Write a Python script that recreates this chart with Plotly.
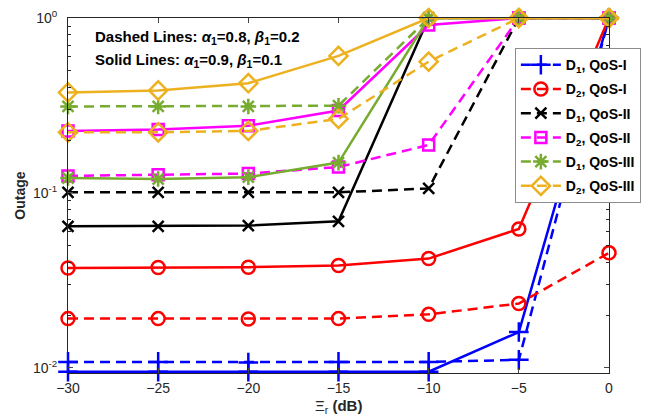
import plotly.graph_objects as go

x_db = [-30, -25, -20, -15, -10, -5, 0]

# Dashed lines: alpha1=0.8, beta1=0.2
d1_qos1_dash = [0.0108, 0.0108, 0.0107, 0.0108, 0.0108, 0.0111, 1.0]
d2_qos1_dash = [0.0191, 0.0191, 0.0190, 0.0191, 0.0202, 0.0233, 0.0454]
d1_qos2_dash = [0.1007, 0.1007, 0.1007, 0.1007, 0.106, 1.0, 1.0]
d2_qos2_dash = [0.125, 0.127, 0.129, 0.1405, 0.188, 1.0, 1.0]
d1_qos3_dash = [0.312, 0.312, 0.312, 0.315, 1.0, 1.0, 1.0]
d2_qos3_dash = [0.222, 0.222, 0.226, 0.265, 0.563, 1.0, 1.0]

# Solid lines: alpha1=0.9, beta1=0.1
d1_qos1_solid = [0.0095, 0.0095, 0.0095, 0.0095, 0.0095, 0.0160, 1.0]
d2_qos1_solid = [0.0372, 0.0374, 0.0376, 0.0384, 0.0421, 0.0622, 1.0]
d1_qos2_solid = [0.0644, 0.0644, 0.0650, 0.0688, 1.0, 1.0, 1.0]
d2_qos2_solid = [0.226, 0.230, 0.242, 0.296, 0.912, 1.0, 1.0]
d1_qos3_solid = [0.1216, 0.120, 0.123, 0.149, 1.0, 1.0, 1.0]
d2_qos3_solid = [0.375, 0.385, 0.424, 0.607, 1.0, 1.0, 1.0]

names = ["D<sub>1</sub>, QoS-I", "D<sub>2</sub>, QoS-I", "D<sub>1</sub>, QoS-II",
         "D<sub>2</sub>, QoS-II", "D<sub>1</sub>, QoS-III", "D<sub>2</sub>, QoS-III"]
colors = ["#0000FF", "#FF0000", "#000000", "#FF00FF", "#77AC30", "#EDB120"]
symbols = ["cross-thin-open", "circle-open", "x-thin-open", "square-open",
           "asterisk-open", "diamond-open"]
sizes = [14, 13, 11, 11, 13, 14]
dash_series = [d1_qos1_dash, d2_qos1_dash, d1_qos2_dash, d2_qos2_dash, d1_qos3_dash, d2_qos3_dash]
solid_series = [d1_qos1_solid, d2_qos1_solid, d1_qos2_solid, d2_qos2_solid, d1_qos3_solid, d2_qos3_solid]

y_major = [0.01, 0.1, 1]
y_major_text = ["10<sup>-2</sup>", "10<sup>-1</sup>", "10<sup>0</sup>"]
y_minor = [m * d for d in (0.01, 0.1) for m in range(2, 10)]

fig = go.Figure()
for i in range(6):
    for ys, dash, show in ((solid_series[i], "solid", False), (dash_series[i], "10px,6px", True)):
        fig.add_trace(go.Scatter(
            x=x_db, y=ys, mode="lines+markers", name="<b>" + names[i] + "</b>",
            showlegend=show, legendgroup="g%d" % i,
            line=dict(color=colors[i], width=2.5, dash=dash),
            marker=dict(symbol=symbols[i], size=sizes[i], color=colors[i],
                        line=dict(color=colors[i], width=2.5)),
            cliponaxis=False,
        ))

axis_col = "#262626"
fig.update_layout(
    width=646, height=415,
    margin=dict(l=68, r=37, t=18, b=42, autoexpand=False),
    paper_bgcolor="white", plot_bgcolor="white",
    font=dict(family="Liberation Sans, Arial, sans-serif", size=14, color=axis_col),
    showlegend=True,
    legend=dict(x=0.826, y=0.915, xanchor="left", yanchor="top",
                bgcolor="white", bordercolor="#8c8c8c", borderwidth=1,
                font=dict(size=14, color="black", family="Liberation Sans, Arial, sans-serif"),
                tracegroupgap=3, itemwidth=40),
    xaxis=dict(range=[-30, 0], tickvals=x_db, automargin=False,
               ticks="inside", ticklen=5, mirror="allticks", showline=True,
               linecolor=axis_col, linewidth=1, showgrid=False, zeroline=False,
               ticklabelstandoff=2,
               tickfont=dict(size=14, color=axis_col)),
    yaxis=dict(type="log", range=[-2.03, 0], tickvals=y_major, ticktext=y_major_text,
               automargin=False,
               ticks="inside", ticklen=5, mirror="allticks", showline=True,
               linecolor=axis_col, linewidth=1, showgrid=False, zeroline=False,
               ticklabelstandoff=7,
               minor=dict(ticks="inside", ticklen=3, tickvals=y_minor, showgrid=False,
                          tickcolor=axis_col),
               tickfont=dict(size=14, color=axis_col),
               title=dict(text="<b>Outage</b>", font=dict(size=14, color=axis_col), standoff=4)),
)
fig.add_annotation(xref="paper", yref="paper", x=0.5, y=-0.093, xanchor="center", yanchor="middle",
                   text="Ξ<sub>r</sub> <b>(dB)</b>", showarrow=False,
                   font=dict(size=15, color=axis_col))
fig.add_annotation(xref="paper", yref="paper", x=0.046, y=0.946, xanchor="left", yanchor="middle",
                   text="<b>Dashed Lines: <i>α</i><sub>1</sub>=0.8, <i>β</i><sub>1</sub>=0.2</b>",
                   showarrow=False, font=dict(size=15, color="black"))
fig.add_annotation(xref="paper", yref="paper", x=0.046, y=0.879, xanchor="left", yanchor="middle",
                   text="<b>Solid Lines: <i>α</i><sub>1</sub>=0.9, <i>β</i><sub>1</sub>=0.1</b>",
                   showarrow=False, font=dict(size=15, color="black"))
fig.write_html("out.html")
